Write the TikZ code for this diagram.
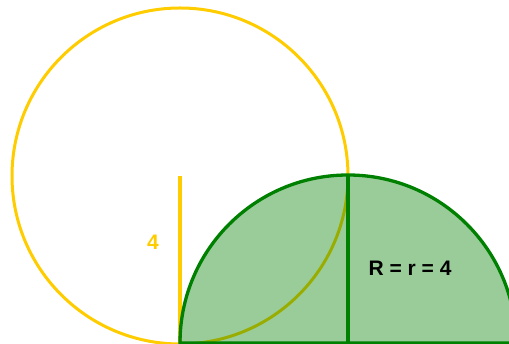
\documentclass[tikz,border=0pt]{standalone}
\usepackage{fontspec}
\setmainfont{Liberation Sans}
\definecolor{sunyellow}{RGB}{255,204,0}
\definecolor{leafgreen}{RGB}{0,128,0}

\begin{document}
\begin{tikzpicture}[
    x=1pt, y=1pt,
    ring/.style={draw=sunyellow, line width=3pt},
    half/.style={draw=leafgreen, line width=3.3pt, fill=leafgreen, fill opacity=0.4, draw opacity=1},
    radius line/.style={line width=3.3pt},
    lbl/.style={font=\bfseries\fontsize{21}{25}\selectfont, inner sep=0pt}
]

% Frame of the picture
\useasboundingbox (0,0) rectangle (509,344);
\clip (0,0) rectangle (509,344);

% Centres and tops
\coordinate (O1) at (180,168);
\coordinate (T1) at (180,0);
\coordinate (O2) at (348,1);
\coordinate (T2) at (348,169);

% Yellow circle with its radius
\draw[ring] (O1) circle[radius=168];
\draw[radius line, sunyellow] (O1) -- (T1);
\node[lbl, text=sunyellow] (r1) at (153,102) {4};

% Green half circle
\draw[half] (180,1) arc[start angle=180, end angle=0, radius=168] -- cycle;
\draw[radius line, leafgreen] (T2) -- (O2);
\node[lbl] (r2) at (410,76) {R = r = 4};

\end{tikzpicture}
\end{document}
